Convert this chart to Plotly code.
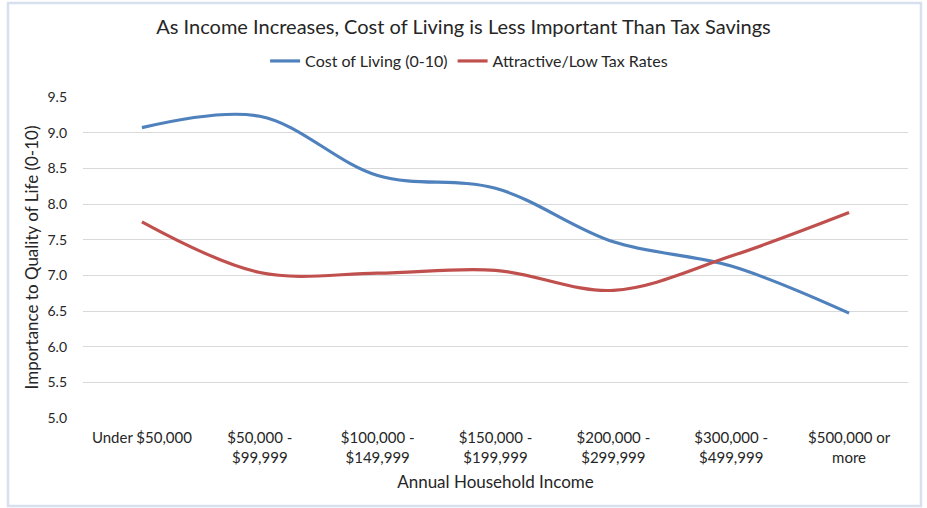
import plotly.graph_objects as go

# Income brackets (x categories)
income_brackets = [
    "Under $50,000",
    "$50,000 -<br>$99,999",
    "$100,000 -<br>$149,999",
    "$150,000 -<br>$199,999",
    "$200,000 -<br>$299,999",
    "$300,000 -<br>$499,999",
    "$500,000 or<br>more",
]

# Average importance score (0-10) per bracket
cost_of_living = [9.07, 9.23, 8.40, 8.22, 7.47, 7.13, 6.47]
low_tax_rates = [7.75, 7.04, 7.03, 7.07, 6.79, 7.27, 7.88]

y_ticks = [5.0, 5.5, 6.0, 6.5, 7.0, 7.5, 8.0, 8.5, 9.0, 9.5]

FONT = "Lato"
TEXT = "#262626"
BLUE = "#4f81bd"
RED = "#c0504d"

fig = go.Figure()
fig.add_trace(go.Scatter(
    x=income_brackets, y=cost_of_living, name="Cost of Living (0-10)",
    mode="lines", line=dict(color=BLUE, width=3.2, shape="spline", smoothing=1.0),
))
fig.add_trace(go.Scatter(
    x=income_brackets, y=low_tax_rates, name="Attractive/Low Tax Rates",
    mode="lines", line=dict(color=RED, width=3.2, shape="spline", smoothing=1.0),
))

fig.update_layout(
    width=927, height=508,
    margin=dict(l=83, r=19, t=97, b=90),
    paper_bgcolor="white", plot_bgcolor="white",
    font=dict(family=FONT, color=TEXT, size=15),
    title=dict(
        text="As Income Increases, Cost of Living is Less Important Than Tax Savings",
        x=0.5, xanchor="center", xref="container",
        y=1 - 27 / 508, yanchor="middle", yref="container",
        font=dict(family=FONT, size=20, color=TEXT),
    ),
    legend=dict(
        orientation="h", x=0.468, xanchor="center", y=1.112, yanchor="middle",
        font=dict(family=FONT, size=16, color=TEXT),
        itemwidth=30, tracegroupgap=0, bgcolor="rgba(0,0,0,0)",
    ),
    xaxis=dict(
        type="category", showgrid=False, zeroline=False, showline=False,
        ticks="", ticklabelstandoff=9,
        tickfont=dict(family=FONT, size=15, color=TEXT),
        title=dict(text="Annual Household Income", standoff=11,
                   font=dict(family=FONT, size=17, color=TEXT)),
        range=[-0.5, len(income_brackets) - 0.5],
    ),
    yaxis=dict(
        range=[5.0, 9.5], tickvals=y_ticks,
        ticktext=[f"{v:.1f}" for v in y_ticks],
        showgrid=True, gridcolor="#d9d9d9", gridwidth=1,
        zeroline=False, showline=False, ticks="", ticklabelstandoff=15,
        tickfont=dict(family=FONT, size=14, color=TEXT),
        title=dict(text="Importance to Quality of Life (0-10)", standoff=4,
                   font=dict(family=FONT, size=17, color=TEXT)),
    ),
    shapes=[dict(
        type="rect", xref="paper", yref="paper",
        x0=-75 / 825, x1=1 + 13 / 825, y0=-88 / 321, y1=1 + 94 / 321,
        line=dict(color="#d6e0ee", width=2.5), fillcolor="rgba(0,0,0,0)", layer="below",
    )],
)

fig.write_html("out.html")
